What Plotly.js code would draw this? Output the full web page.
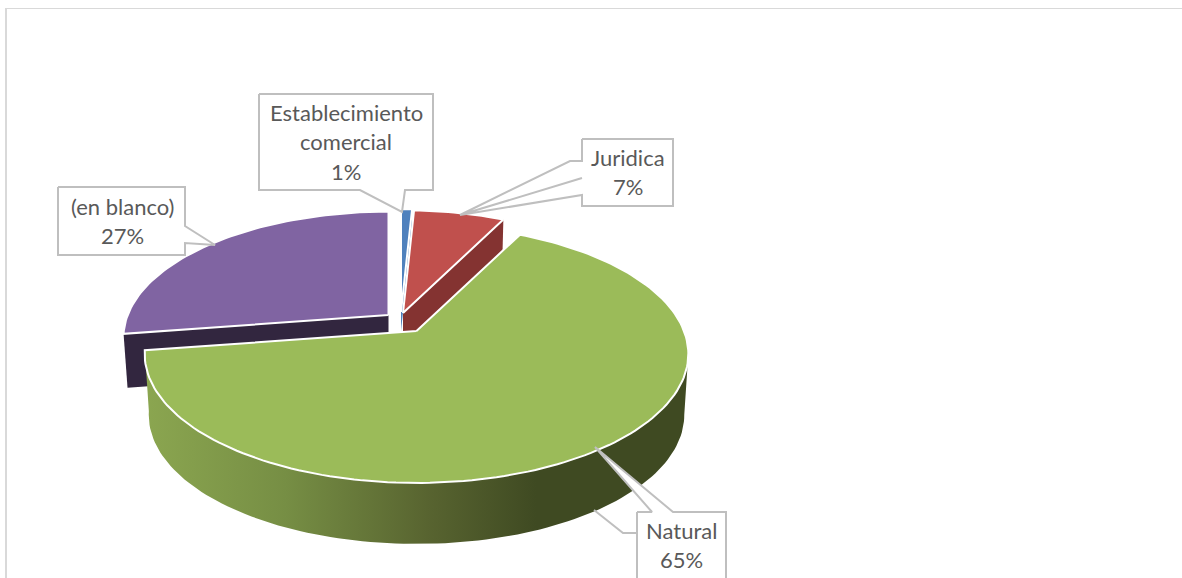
<!DOCTYPE html>
<html>
<head>
<meta charset="utf-8">
<script src="https://cdn.plot.ly/plotly-3.0.1.min.js"></script>
<style>html,body{margin:0;padding:0;background:#fff;overflow:hidden}#chart{width:1182px;height:578px}</style>
</head>
<body>
<div id="chart"></div>
<script>
// Data (percent of total, clockwise from 12 o'clock)
const categories = ['Establecimiento comercial', 'Juridica', 'Natural', '(en blanco)'];
const values = [0.8, 6.6, 65.2, 27.4];
const labelLines = [['Establecimiento', 'comercial'], ['Juridica'], ['Natural'], ['(en blanco)']];

// Styles
const topColors = ['#4f81bd', '#c0504d', '#9bbb59', '#8064a2'];
const wallColors = ['#4f81bd', '#843331', '#3f4a22', '#32263f'];
const labelColor = '#595959', calloutColor = '#bfbfbf';

// Perspective of the tilted disc and position of each exploded slice
const A = 267.5, B = 124.9, K = 0.178;
const apexX = [401, 403, 416.5, 388.5];
const apexY = [312, 313, 331, 315];
const radius = [0.97, 0.97, 1, 0.975];
const depth = [19, 58, 61, 54];

// Callouts
const boxes = [[259, 94, 433, 190], [582, 139, 673, 206], [637, 512, 726, 600], [58, 187, 185, 255]];
const pointers = [
  [[360, 190], [402, 212], [405, 190]],
  [[582, 161], [570, 161], [460, 215], [582, 178], [460, 215], [582, 195]],
  [[673, 512], [595, 447], [652, 512]],
  [[185, 226], [215, 245], [185, 243]]
];
const pointerSides = ['bottom', 'left', 'top', 'right'];
const textCenterX = [346, 628, 681, 122];
const textFirstY = [112, 157, 530, 206];
const lineStep = 29.5;

function project(i, deg, d, shrink) {
  const t = deg * Math.PI / 180, X = Math.sin(t), Y = Math.cos(t), w = 1 + K * Y;
  const s = radius[i];
  return [apexX[i] + s * (shrink || 1) * A * X / w, apexY[i] + (d || 0) - s * B * Y / w];
}
function arc(i, from, to, d, shrink) {
  const pts = [], n = Math.max(2, Math.ceil(Math.abs(to - from) / 1.5));
  for (let j = 0; j <= n; j++) pts.push(project(i, from + (to - from) * j / n, d, shrink));
  return pts;
}
function poly(pts, style) {
  return Object.assign({
    type: 'scatter', mode: 'lines', x: pts.map(p => p[0]), y: pts.map(p => p[1]),
    fill: 'toself', hoverinfo: 'skip', showlegend: false
  }, style);
}

// Slice angles from the values
const total = values.reduce((a, b) => a + b, 0);
const starts = [], ends = [];
values.reduce((acc, v, i) => { starts[i] = acc / total * 360; ends[i] = (acc + v) / total * 360; return acc + v; }, 0);

const traces = [];
const noLine = { line: { width: 0, color: 'rgba(0,0,0,0)' } };
const shrinkBottom = 0.985;

// Radial faces of the slices standing behind Natural
[3, 0, 1].forEach(i => {
  const edge = i === 3 ? starts[i] : ends[i];
  const apexTop = [apexX[i], apexY[i]], apexBottom = [apexX[i], apexY[i] + depth[i]];
  const rimTop = project(i, edge), rimBottom = project(i, edge, depth[i], shrinkBottom);
  traces.push(poly([apexTop, rimTop, rimBottom, apexBottom, apexTop], Object.assign({ fillcolor: wallColors[i] }, noLine)));
});

// Natural: outer wall with horizontal shading, from the disc's right silhouette point round to its end, then top face
const n = 2;
const silhouette = Math.acos(-K) * 180 / Math.PI;
const wallPts = arc(n, silhouette, ends[n]).concat(arc(n, ends[n], silhouette, depth[n], shrinkBottom));
wallPts.push(wallPts[0]);
traces.push(poly(wallPts, Object.assign({
  fillgradient: {
    type: 'horizontal',
    colorscale: [[0, '#8ba650'], [0.26, '#768e44'], [0.52, '#586430'], [0.72, '#3f4a22'], [1, '#3f4a22']]
  }
}, noLine)));

function topFace(i) {
  const pts = [[apexX[i], apexY[i]]].concat(arc(i, starts[i], ends[i]));
  pts.push([apexX[i], apexY[i]]);
  return poly(pts, { fillcolor: topColors[i], line: { color: '#ffffff', width: 2 } });
}
traces.push(topFace(2));
[3, 1, 0].forEach(i => traces.push(topFace(i)));

// Callouts: box with its pointer
categories.forEach((c, i) => {
  const [x0, y0, x1, y1] = boxes[i];
  let pts;
  const side = pointerSides[i];
  if (side === 'bottom') pts = [[x0, y0], [x1, y0], [x1, y1]].concat(pointers[i].slice().reverse(), [[x0, y1], [x0, y0]]);
  if (side === 'left') pts = [[x0, y0], [x1, y0], [x1, y1], [x0, y1]].concat(pointers[i].slice().reverse(), [[x0, y0]]);
  if (side === 'top') pts = [[x0, y0]].concat(pointers[i].slice().reverse(), [[x1, y0], [x1, y1], [x0, y1], [x0, y0]]);
  if (side === 'right') pts = [[x0, y0], [x1, y0]].concat(pointers[i], [[x1, y1], [x0, y1], [x0, y0]]);
  traces.push(poly(pts, { fillcolor: '#ffffff', line: { color: calloutColor, width: 2 } }));
});

// Natural's third leader line, seen below the wall
traces.push({
  type: 'scatter', mode: 'lines', x: [594, 623, 637], y: [510, 533, 533],
  line: { color: calloutColor, width: 2 }, hoverinfo: 'skip', showlegend: false
});

// Label text as real text
const annotations = [];
categories.forEach((c, i) => {
  labelLines[i].concat([Math.round(values[i] / total * 100) + '%']).forEach((txt, j) => {
    annotations.push({
      xref: 'x', yref: 'y', x: textCenterX[i], y: textFirstY[i] + j * lineStep,
      text: txt, showarrow: false, xanchor: 'center', yanchor: 'middle',
      font: { family: 'Lato, Carlito, sans-serif', size: 22, color: labelColor }
    });
  });
});

const layout = {
  width: 1182, height: 578, margin: { l: 0, r: 0, t: 0, b: 0 },
  paper_bgcolor: '#ffffff', plot_bgcolor: '#ffffff', showlegend: false,
  xaxis: { range: [0, 1182], visible: false, fixedrange: true },
  yaxis: { range: [578, 0], visible: false, fixedrange: true },
  annotations,
  shapes: [
    { type: 'line', xref: 'x', yref: 'y', x0: 6, x1: 6, y0: 8, y1: 578, line: { color: '#d9d9d9', width: 2 } },
    { type: 'line', xref: 'x', yref: 'y', x0: 5, x1: 1182, y0: 8.5, y1: 8.5, line: { color: '#d9d9d9', width: 1 } }
  ]
};
Plotly.newPlot('chart', traces, layout, { displayModeBar: false, staticPlot: true });
</script>
</body>
</html>
